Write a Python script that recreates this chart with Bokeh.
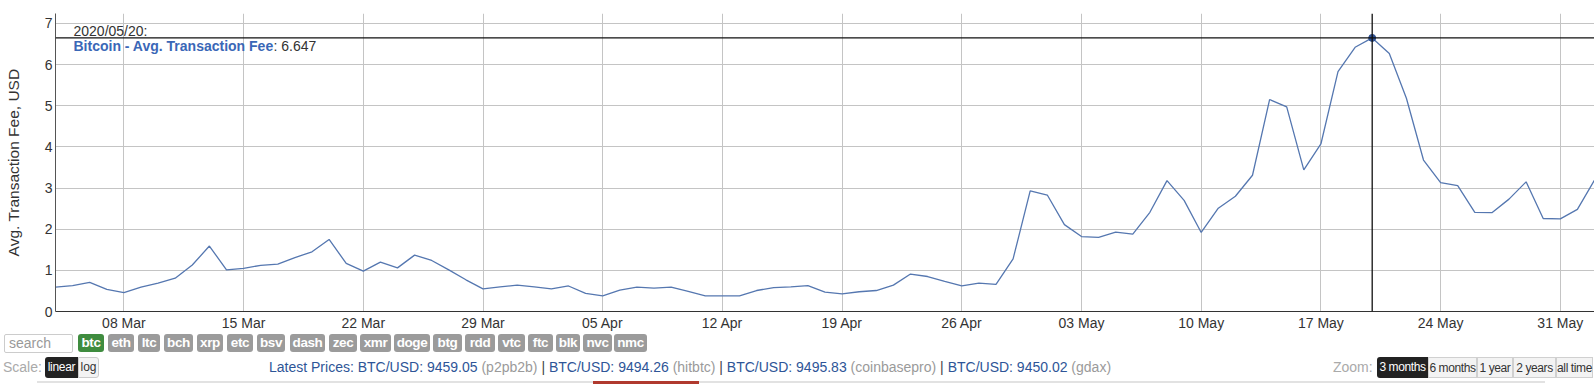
import datetime as dt
from bokeh.plotting import figure
from bokeh.models import Range1d, FixedTicker, DatetimeTickFormatter, Span, Div
from bokeh.layouts import column
from bokeh.embed import file_html
from bokeh.resources import INLINE
from bokeh.core.properties import value

# ---------------- data ----------------
first_day = "2020-03-04"
fee_usd = [
    0.59, 0.63, 0.71, 0.54, 0.46, 0.59, 0.69, 0.81, 1.13, 1.59,   # Mar 4-13
    1.01, 1.05, 1.12, 1.15, 1.31, 1.45, 1.75, 1.17, 0.98, 1.20,   # Mar 14-23
    1.06, 1.37, 1.24, 1.01, 0.77, 0.55, 0.60, 0.64,               # Mar 24-31
    0.60, 0.55, 0.62, 0.44, 0.38, 0.52, 0.59, 0.57, 0.59, 0.49,   # Apr 1-10
    0.38, 0.38, 0.38, 0.51, 0.58, 0.60, 0.63, 0.47, 0.43, 0.48,   # Apr 11-20
    0.51, 0.64, 0.91, 0.85, 0.73, 0.62, 0.69, 0.66, 1.28, 2.93,   # Apr 21-30
    2.83, 2.11, 1.82, 1.80, 1.93, 1.88, 2.41, 3.18, 2.70, 1.92,   # May 1-10
    2.51, 2.80, 3.31, 5.15, 4.97, 3.44, 4.07, 5.83, 6.42, 6.647,  # May 11-20
    6.27, 5.18, 3.68, 3.13, 3.06, 2.41, 2.40, 2.73, 3.15, 2.26,   # May 21-30
    2.25, 2.48, 3.19,                                             # May 31 - Jun 2
]
x_tick_dates = ["2020-03-08", "2020-03-15", "2020-03-22", "2020-03-29", "2020-04-05",
                "2020-04-12", "2020-04-19", "2020-04-26", "2020-05-03", "2020-05-10",
                "2020-05-17", "2020-05-24", "2020-05-31"]
y_ticks = [0, 1, 2, 3, 4, 5, 6, 7]
hover_date = "2020-05-20"
hover_value = 6.647
series_name = "Bitcoin - Avg. Transaction Fee"
y_title = "Avg. Transaction Fee, USD"

coins = ["btc", "eth", "ltc", "bch", "xrp", "etc", "bsv", "dash", "zec", "xmr",
         "doge", "btg", "rdd", "vtc", "ftc", "blk", "nvc", "nmc"]
price_pairs = ["BTC/USD", "BTC/USD", "BTC/USD", "BTC/USD"]
price_values = ["9459.05", "9494.26", "9495.83", "9450.02"]
price_sources = ["p2pb2b", "hitbtc", "coinbasepro", "gdax"]
zoom_options = ["3 months", "6 months", "1 year", "2 years", "all time"]
scale_options = ["linear", "log"]

# ---------------- derived ----------------
d0 = dt.datetime.fromisoformat(first_day)
dates = [d0 + dt.timedelta(days=i) for i in range(len(fee_usd))]
tick_dt = [dt.datetime.fromisoformat(s) for s in x_tick_dates]
to_ms = lambda d: (d - dt.datetime(1970, 1, 1)).total_seconds() * 1000.0
hover_dt = dt.datetime.fromisoformat(hover_date)

FONT = "Liberation Sans"
Y_TOP = 7.24

p = figure(width=1594, height=333, x_axis_type="datetime",
           x_range=Range1d(dates[0], dates[-1]), y_range=Range1d(0, Y_TOP),
           output_backend="svg", toolbar_location=None,
           min_border_left=55, min_border_right=0, min_border_top=13, min_border_bottom=22)
p.outline_line_color = None
p.background_fill_color = "white"
p.border_fill_color = "white"

p.xaxis.ticker = FixedTicker(ticks=[to_ms(d) for d in tick_dt])
p.xaxis.formatter = DatetimeTickFormatter(days="%d %b", months="%d %b")
p.yaxis.ticker = FixedTicker(ticks=y_ticks)
for ax in (p.xaxis, p.yaxis):
    ax.major_tick_line_color = None
    ax.minor_tick_line_color = None
    ax.major_tick_out = 0
    ax.major_tick_in = 0
    ax.minor_tick_out = 0
    ax.minor_tick_in = 0
    ax.major_label_text_font = FONT
    ax.major_label_text_font_size = "14px"
    ax.major_label_text_color = "#333333"
    ax.major_label_standoff = 3
p.xaxis.axis_line_color = "#333333"
p.yaxis.axis_line_color = "#555555"
p.yaxis.axis_label = y_title
p.yaxis.axis_label_text_font = FONT
p.yaxis.axis_label_text_font_size = "15.5px"
p.yaxis.axis_label_text_font_style = "normal"
p.yaxis.axis_label_text_color = "#333333"
p.yaxis.axis_label_standoff = 20

p.xgrid.grid_line_color = "#c4c4c4"
p.ygrid.grid_line_color = "#c4c4c4"

p.line(dates, fee_usd, line_color="#5577b0", line_width=1.3)

# crosshair
p.add_layout(Span(location=to_ms(hover_dt), dimension="height",
                  line_color="#111111", line_width=1.3))
p.add_layout(Span(location=hover_value, dimension="width",
                  line_color="#111111", line_width=1.3))
p.scatter([hover_dt], [hover_value], size=7, fill_color="#2d4f91", line_color="#2d4f91")

# tooltip text
p.text([dates[0]], [Y_TOP], text=[hover_dt.strftime("%Y/%m/%d") + ":"],
       x_offset=18, y_offset=17, text_font=value(FONT), text_font_size="14px",
       text_color="#333333", text_baseline="alphabetic")
p.text([dates[0]], [Y_TOP], text=[series_name],
       x_offset=18, y_offset=32.5, text_font=value(FONT), text_font_size="14px",
       text_font_style="bold", text_color="#3a67b7", text_baseline="alphabetic")
p.text([dates[0]], [Y_TOP], text=[": %.3f" % hover_value],
       x_offset=18 + 200, y_offset=32.5, text_font=value(FONT), text_font_size="14px",
       text_color="#333333", text_baseline="alphabetic")

# ---------------- controls (HTML) ----------------
coin_left = [78, 108, 138, 164, 197, 227, 257, 290, 329, 360, 394, 433, 465, 498, 528, 556, 583, 614]
coin_right = [104, 134, 160, 193, 223, 253, 285, 325, 357, 391, 430, 462, 495, 525, 553, 580, 612, 647]
html = ["<div style=\"position:relative;width:1594px;height:51px;font-family:'Liberation Sans',Arial,sans-serif;background:white;overflow:hidden;\">"]
html.append("<div style='position:absolute;left:4px;top:1px;width:69px;height:19px;box-sizing:border-box;"
            "border:1px solid #cccccc;border-radius:2px;color:#999;font-size:14px;line-height:17px;padding-left:4px;'>search</div>")
for i, c in enumerate(coins):
    bg = "#3f8c3f" if i == 0 else "#9b9b9b"
    html.append("<div style='position:absolute;left:%dpx;top:1px;width:%dpx;height:18px;background:%s;color:white;"
                "font-weight:bold;font-size:13.5px;line-height:18px;text-align:center;border-radius:3px;letter-spacing:-0.4px;'>%s</div>"
                % (coin_left[i], coin_right[i] - coin_left[i], bg, c))
html.append("<div style='position:absolute;left:3px;top:24px;height:21px;line-height:21px;font-size:14px;color:#aaaaaa;'>Scale:</div>")
html.append("<div style='position:absolute;left:45px;top:24px;width:33px;height:21px;background:#222;color:white;font-size:12px;"
            "line-height:21px;text-align:center;border-radius:3px 0 0 3px;letter-spacing:-0.3px;'>%s</div>" % scale_options[0])
html.append("<div style='position:absolute;left:78px;top:24px;width:21px;height:21px;box-sizing:border-box;background:#f3f3f3;"
            "border:1px solid #cccccc;color:#333;font-size:12px;line-height:19px;text-align:center;border-radius:0 3px 3px 0;'>%s</div>" % scale_options[1])
parts = []
for i in range(len(price_values)):
    seg = ("<span style='color:#2e5597'>%s: %s</span> <span style='color:#9a9a9a'>(%s)</span>"
           % (price_pairs[i], price_values[i], price_sources[i]))
    parts.append(seg)
prices_html = " <span style='color:#444'>|</span> ".join(parts)
html.append("<div style='position:absolute;left:269px;top:24px;height:21px;line-height:21px;font-size:14px;white-space:nowrap;'>"
            "<span style='color:#2e5597'>Latest Prices: </span>%s</div>" % prices_html)
html.append("<div style='position:absolute;left:1333px;top:24px;height:21px;line-height:21px;font-size:14px;color:#aaaaaa;'>Zoom:</div>")
zoom_left = [1377, 1428, 1477, 1513, 1556]
zoom_right = [1428, 1477, 1513, 1556, 1593]
for i, z in enumerate(zoom_options):
    if i == 0:
        st = "background:#222;color:white;border-radius:3px 0 0 3px;"
    else:
        st = "background:#f3f3f3;color:#333;border:1px solid #d0d0d0;box-sizing:border-box;"
    html.append("<div style='position:absolute;left:%dpx;top:24px;width:%dpx;height:21px;%sfont-size:12px;line-height:20px;"
                "text-align:center;white-space:nowrap;letter-spacing:-0.4px;'>%s</div>" % (zoom_left[i], zoom_right[i] - zoom_left[i], st, z))
html.append("<div style='position:absolute;left:37px;top:48px;width:1508px;height:2px;background:#e2e2e2;'></div>")
html.append("<div style='position:absolute;left:593px;top:48px;width:106px;height:3px;background:#b0392e;'></div>")
html.append("</div>")

controls = Div(text="".join(html), width=1594, height=51, margin=(0, 0, 0, 0))

layout = column(p, controls, spacing=0)
open("out.html", "w").write(file_html(layout, INLINE))
